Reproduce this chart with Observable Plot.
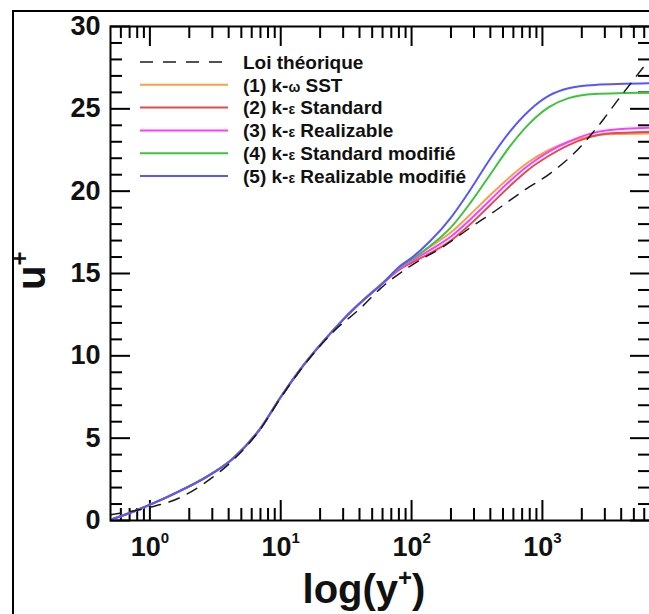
<!DOCTYPE html>
<html>
<head>
<meta charset="utf-8">
<script src="https://cdn.jsdelivr.net/npm/d3@7"></script>
<script src="https://cdn.jsdelivr.net/npm/@observablehq/plot@0.6"></script>
<style>
html, body { margin: 0; padding: 0; background: #fff; overflow: hidden; width: 649px; height: 614px; }
#wrap { position: relative; width: 649px; height: 614px; overflow: hidden; }
#border { position: absolute; left: 12px; top: 10px; width: 1000px; height: 1000px; border: 2px solid #000; box-sizing: border-box; }
#chart { position: absolute; left: 0; top: 0; width: 700px; }
#legend { position: absolute; left: 0; top: 0; }
</style>
</head>
<body>
<div id="wrap">
  <div id="border"></div>
  <div id="chart"></div>
  <svg id="legend" width="649" height="614"></svg>
</div>
<script>
// ---------------- data ----------------
const seriesNames = [
  "Loi théorique",
  "(1) k-ω SST",
  "(2) k-ε Standard",
  "(3) k-ε Realizable",
  "(4) k-ε Standard modifié",
  "(5) k-ε Realizable modifié"
];
const seriesColors = ["#1a1a1a", "#f7a145", "#e8474f", "#ff3dff", "#3dc43d", "#5757ff"];

// theoretical law (dashed)
const loiYPlus = [0.5, 1.0, 1.72, 2.68, 4.3, 7, 10, 15, 25.5, 40.8, 58, 100, 172, 283, 426, 722, 1156, 1694, 2953, 3742, 5012, 6000];
const loiU     = [0.35, 0.8, 1.41, 2.33, 3.65, 5.55, 7.45, 9.4, 11.5, 12.9, 14.1, 15.5, 16.6, 17.8, 18.75, 20.04, 21.1, 22.2, 24.4, 25.5, 26.8, 27.6];

// near-wall part common to all five computed profiles
const wallYPlus = [0.52, 0.75, 1.1, 1.7, 2.67, 4.3, 7, 10, 15, 22.7, 30, 43, 60];
const wallU     = [0.1, 0.55, 1.1, 1.8, 2.62, 3.75, 5.6, 7.5, 9.45, 11.15, 12.2, 13.4, 14.4];

// outer parts
const lowYPlus = [83, 100, 140, 200, 282, 398, 562, 794, 1122, 1585, 2238, 3162, 6700];
const sstU     = [15.4, 15.85, 16.65, 17.5, 18.6, 19.75, 20.85, 21.8, 22.5, 23.0, 23.3, 23.45, 23.5];
const stdU     = [15.3, 15.65, 16.25, 17.0, 18.0, 19.15, 20.3, 21.35, 22.15, 22.8, 23.25, 23.5, 23.6];
const realU    = [15.35, 15.75, 16.45, 17.25, 18.3, 19.45, 20.6, 21.6, 22.4, 23.0, 23.45, 23.7, 23.85];
const modYPlus = [83, 100, 140, 200, 282, 398, 562, 794, 1122, 1585, 2512, 6700];
const stdModU  = [15.45, 15.85, 16.7, 17.8, 19.3, 21.0, 22.7, 24.1, 25.1, 25.65, 25.9, 26.0];
const realModU = [15.5, 15.95, 17.0, 18.4, 20.1, 21.95, 23.6, 24.9, 25.8, 26.25, 26.45, 26.55];

// ticks
const xMajorTicks = [1, 10, 100, 1000];
const xTickExponents = ["0", "1", "2", "3"];
const xDecades = [0.1, 1, 10, 100, 1000];
const xMinorMultipliers = [2, 3, 4, 5, 6, 7, 8, 9];
const yMajorTicks = [0, 5, 10, 15, 20, 25, 30];
const yMinorTicks = [1, 2, 3, 4, 6, 7, 8, 9, 11, 12, 13, 14, 16, 17, 18, 19, 21, 22, 23, 24, 26, 27, 28, 29];

// ---------------- build ----------------
const zip = (xs, ys) => xs.map((x, i) => ({x, y: ys[i]}));
const loiData = zip(loiYPlus, loiU);
const withWall = (xs, ys) => zip(wallYPlus, wallU).concat(zip(xs, ys));
const curves = [
  withWall(lowYPlus, sstU),
  withWall(lowYPlus, stdU),
  withWall(lowYPlus, realU),
  withWall(modYPlus, stdModU),
  withWall(modYPlus, realModU)
];

const W = 660, H = 614, mL = 110, mR = 10, mT = 26, mB = 94;
const innerW = W - mL - mR, innerH = H - mT - mB;
const majorLen = 20, minorLen = 12;
const xDomain = [0.5, 6700];
const xMinorTicks = xDecades.flatMap(d => xMinorMultipliers.map(m => d * m))
  .filter(v => v > xDomain[0] && v < xDomain[1]);
const expOf = new Map(xMajorTicks.map((v, i) => [v, xTickExponents[i]]));

const tickStyle = {stroke: "#000", strokeWidth: 2};

const chart = Plot.plot({
  width: W, height: H,
  marginLeft: mL, marginRight: mR, marginTop: mT, marginBottom: mB,
  x: {type: "log", domain: xDomain},
  y: {domain: [0, 30]},
  style: {fontFamily: "'Liberation Sans', Arial, sans-serif", fontWeight: "bold", background: "transparent", maxWidth: "none", overflow: "visible"},
  marks: [
    Plot.axisY(yMajorTicks, {tickSize: 0, tickPadding: 10, fontSize: 27, fontWeight: "bold", label: null, fill: "#111"}),
    Plot.axisX(xMajorTicks, {tickSize: 0, tickPadding: 16, fontSize: 27, fontWeight: "bold", label: null, fill: "#111",
      tickFormat: d => "10^" + expOf.get(d)}),
    // inward ticks on all four sides
    Plot.tickX(xMajorTicks, {x: d => d, insetTop: innerH - majorLen, ...tickStyle}),
    Plot.tickX(xMajorTicks, {x: d => d, insetBottom: innerH - majorLen, ...tickStyle}),
    Plot.tickX(xMinorTicks, {x: d => d, insetTop: innerH - minorLen, ...tickStyle}),
    Plot.tickX(xMinorTicks, {x: d => d, insetBottom: innerH - minorLen, ...tickStyle}),
    Plot.tickY(yMajorTicks, {y: d => d, insetRight: innerW - majorLen, ...tickStyle}),
    Plot.tickY(yMajorTicks, {y: d => d, insetLeft: innerW - majorLen, ...tickStyle}),
    Plot.tickY(yMinorTicks, {y: d => d, insetRight: innerW - minorLen, ...tickStyle}),
    Plot.tickY(yMinorTicks, {y: d => d, insetLeft: innerW - minorLen, ...tickStyle}),
    // computed profiles
    ...curves.map((c, i) => Plot.line(c, {x: "x", y: "y", stroke: seriesColors[i + 1], strokeWidth: 2, curve: "monotone-x"})),
    // theoretical law
    Plot.line(loiData, {x: "x", y: "y", stroke: seriesColors[0], strokeWidth: 1.5, strokeDasharray: "11,9", curve: "monotone-x"}),
    Plot.frame({stroke: "#000", strokeWidth: 2})
  ]
});
document.getElementById("chart").appendChild(chart);

const svg = d3.select(chart);
// superscript exponents on x tick labels
svg.selectAll('g[aria-label="x-axis tick label"] text').each(function () {
  const t = d3.select(this);
  const [base, exp] = t.text().split("^");
  t.text(base);
  t.append("tspan").attr("font-size", 15).attr("dy", -13).text(exp);
});

// axis titles
const xTitle = svg.append("text")
  .attr("x", 364).attr("y", 603)
  .attr("text-anchor", "middle")
  .attr("font-size", 40).attr("font-weight", "bold").attr("fill", "#111");
xTitle.append("tspan").text("log(y");
xTitle.append("tspan").attr("font-size", 24).attr("dy", -17).text("+");
xTitle.append("tspan").attr("font-size", 40).attr("dy", 17).text(")");

const yTitle = svg.append("text")
  .attr("transform", "translate(45,290) rotate(-90)")
  .attr("text-anchor", "start")
  .attr("font-size", 40).attr("font-weight", "bold").attr("fill", "#111");
yTitle.append("tspan").text("u");
yTitle.append("tspan").attr("font-size", 24).attr("dy", -17).text("+");

// ---------------- legend ----------------
const legendLineX1 = 140, legendLineX2 = 228, legendTextX = 243, legendTop = 62, legendStep = 22.8;
const lg = d3.select("#legend")
  .style("font-family", "'Liberation Sans', Arial, sans-serif")
  .style("font-weight", "bold");
seriesNames.forEach((name, i) => {
  const yy = legendTop + i * legendStep;
  lg.append("line")
    .attr("x1", legendLineX1).attr("x2", legendLineX2)
    .attr("y1", yy).attr("y2", yy)
    .attr("stroke", seriesColors[i])
    .attr("stroke-width", i === 0 ? 1.5 : 2)
    .attr("stroke-dasharray", i === 0 ? "13,10" : null);
  const t = lg.append("text")
    .attr("x", legendTextX).attr("y", yy).attr("dy", "0.36em")
    .attr("font-size", 19).attr("fill", "#111");
  const parts = name.split(/([ωε])/);
  parts.forEach(p => {
    if (p === "ω" || p === "ε") t.append("tspan").attr("font-size", 14).text(p);
    else if (p) t.append("tspan").text(p);
  });
});
</script>
</body>
</html>
